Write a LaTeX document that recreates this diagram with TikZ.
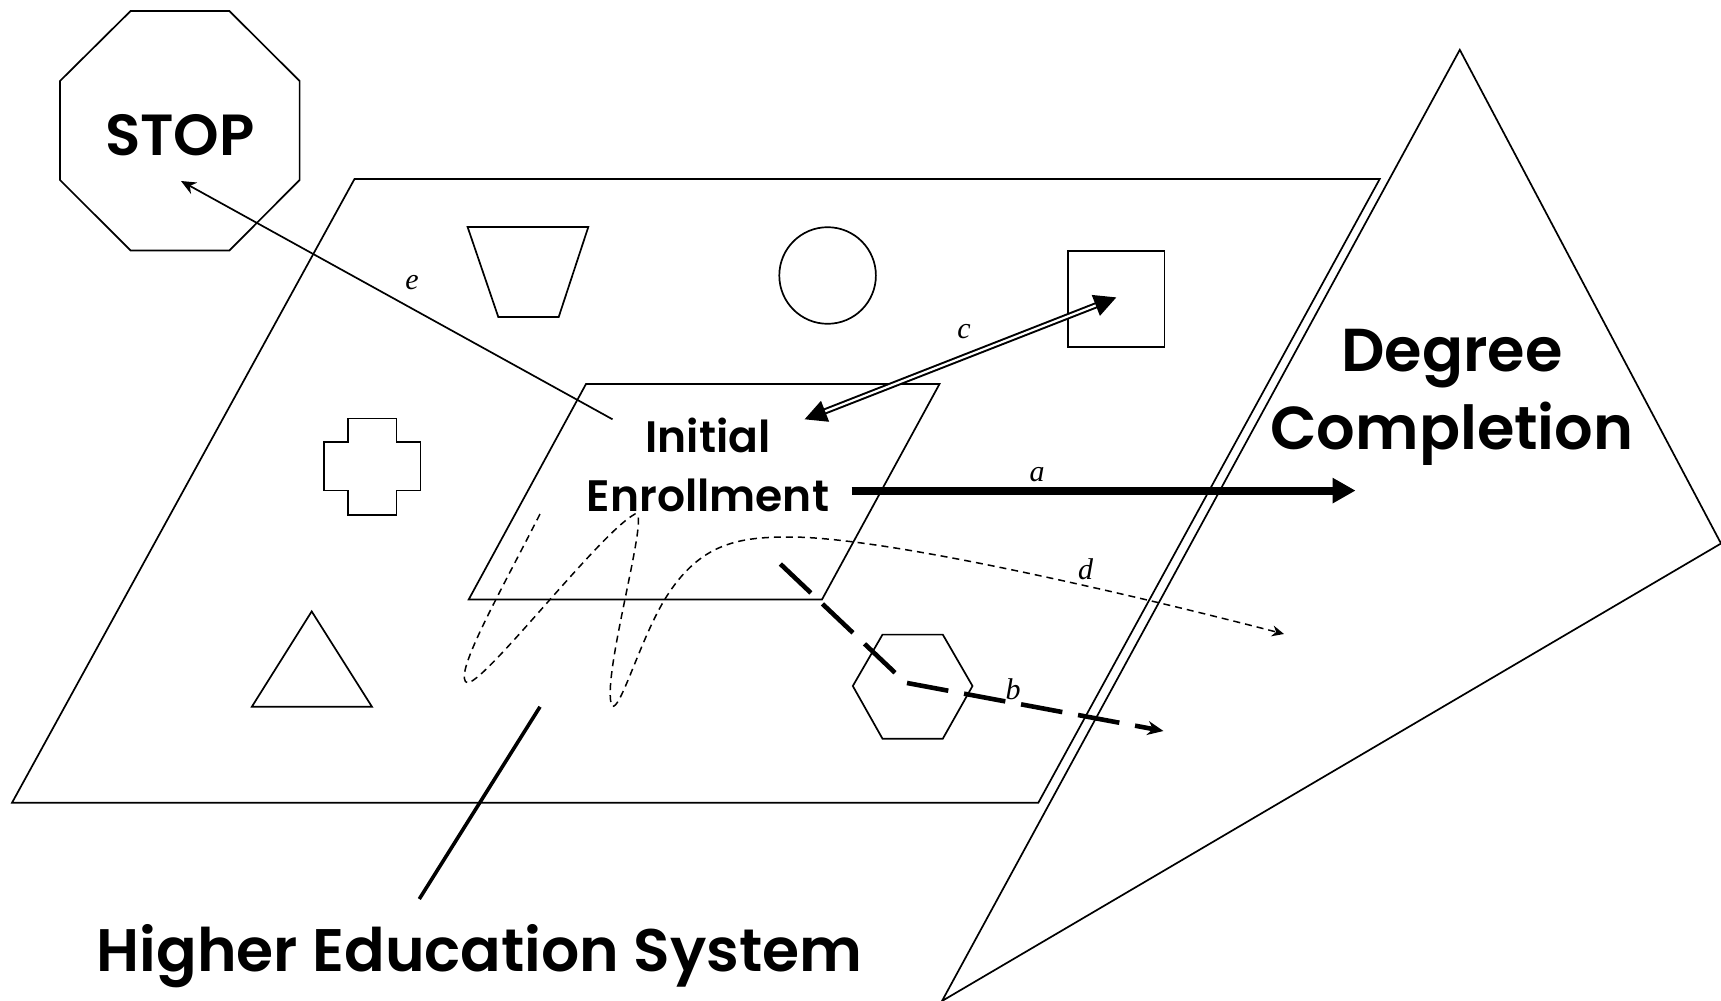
\documentclass[tikz,border=0pt]{standalone}
\usepackage{fontspec}
\setmainfont{Poppins SemiBold}
\newfontfamily\labelfont{Liberation Serif}
\usetikzlibrary{arrows.meta}

\begin{document}
\begin{tikzpicture}[
  x = 0.5pt, y = -0.5pt,
  outline/.style = {draw, line width = 0.85pt},
  title/.style = {align = center, inner sep = 0pt, font = \fontsize{#1}{#1}\selectfont},
  letter/.style = {inner sep = 0pt, font = \labelfont\itshape\fontsize{15}{15}\selectfont},
  flow/.style = {draw, line width = 4pt, -{Triangle[length = 11.5pt, width = 12pt]}},
  leak/.style = {draw, line width = 2.3pt, dash pattern = on 21pt off 8pt, -{Stealth[length = 8pt, width = 7pt]}},
  swap/.style = {draw, line width = 1pt, double, double distance = 1.1pt, {Triangle[length = 11pt, width = 11pt]}-{Triangle[length = 11pt, width = 11pt]}},
  wander/.style = {draw, line width = 0.75pt, dash pattern = on 3.5pt off 2.5pt, -{Stealth[length = 6pt, width = 5.5pt]}},
  drop/.style = {draw, line width = 0.85pt, -{Stealth[length = 7.5pt, width = 6.5pt]}},
  pointer/.style = {draw, line width = 1.8pt}
]
\useasboundingbox (0,0) rectangle (1721,1001);

% planes
\draw[outline] (354.5,179) -- (1379.7,179) -- (1038.3,802.8) -- (12,802.8) -- cycle;
\draw[outline] (586,384) -- (939.5,384) -- (822,599.5) -- (468.7,599.5) -- cycle;
\draw[outline] (1459.8,49.8) -- (1721,543.5) -- (942,1001) -- cycle;
\draw[outline] (130.6,11) -- (229.4,11) -- (299.6,81) -- (299.6,180) -- (229.4,250.5)
  -- (130.6,250.5) -- (60,180) -- (60,81) -- cycle;

% little shapes
\draw[outline] (467.6,227) -- (588.3,227) -- (558.7,317) -- (498.3,317) -- cycle;
\draw[outline] (827.6,275.5) circle (48.3);
\draw[outline] (1068,251.3) rectangle (1164.5,346.8);
\draw[outline] (348,418.6) -- (396.5,418.6) -- (396.5,442.3) -- (420.4,442.3) -- (420.4,490.6)
  -- (396.5,490.6) -- (396.5,514.8) -- (348,514.8) -- (348,490.6) -- (323.8,490.6)
  -- (323.8,442.3) -- (348,442.3) -- cycle;
\draw[outline] (311.7,611.4) -- (372,706.8) -- (251.8,706.8) -- cycle;
\draw[outline] (852.8,686) -- (882.5,634.6) -- (942.8,634.6) -- (972.5,686) -- (942.8,738.7)
  -- (882.5,738.7) -- cycle;

% texts
\node[title = 29] (stop) at (180,135) {STOP};
\node[title = 22] (enrol) at (708,464.5) {Initial\\[7.5pt]Enrollment};
\node[title = 30.3] (degree) at (1452,397.5) {Degree\\[6pt]Completion};
\node[title = 30] (system) at (479.6,956) {Higher Education System};

% ends of the paths
\coordinate (aStart) at (851.7,490.6);
\coordinate (aEnd) at (1355.6,490.6);
\coordinate (bStart) at (780.4,564);
\coordinate (bTurn) at (905.5,682.7);
\coordinate (bEnd) at (1163.5,731);
\coordinate (cStart) at (804.6,419.3);
\coordinate (cEnd) at (1116.3,297.4);
\coordinate (dStart) at (540,514);
\coordinate (dEnd) at (1284,634);
\coordinate (eStart) at (612.5,419.3);
\coordinate (eEnd) at (181,181);
\coordinate (planeMark) at (540,706.8);
\coordinate (systemMark) at (419.3,899);

\path[flow] (aStart) -- (aEnd);
\path[leak] (bStart) -- (bTurn) -- (bEnd);
\path[swap] (cStart) -- (cEnd);
\path[wander] (dStart)
  .. controls (500,593) and (450,680) .. (468,683)
  .. controls (490,677) and (600,533) .. (635,514)
  .. controls (652,506) and (600,680) .. (612,706)
  .. controls (620,712) and (640,640) .. (665,599)
  .. controls (700,542) and (740,537) .. (790,537)
  .. controls (900,537) and (1200,612) .. (dEnd);
\path[drop] (eStart) -- (eEnd);
\path[pointer] (planeMark) -- (systemMark);

% letters
\node[letter] (aLabel) at (1037,475) {a};
\node[letter] (bLabel) at (1013,689) {b};
\node[letter] (cLabel) at (964,332) {c};
\node[letter] (dLabel) at (1085.5,569) {d};
\node[letter] (eLabel) at (412,283) {e};
\end{tikzpicture}
\end{document}
